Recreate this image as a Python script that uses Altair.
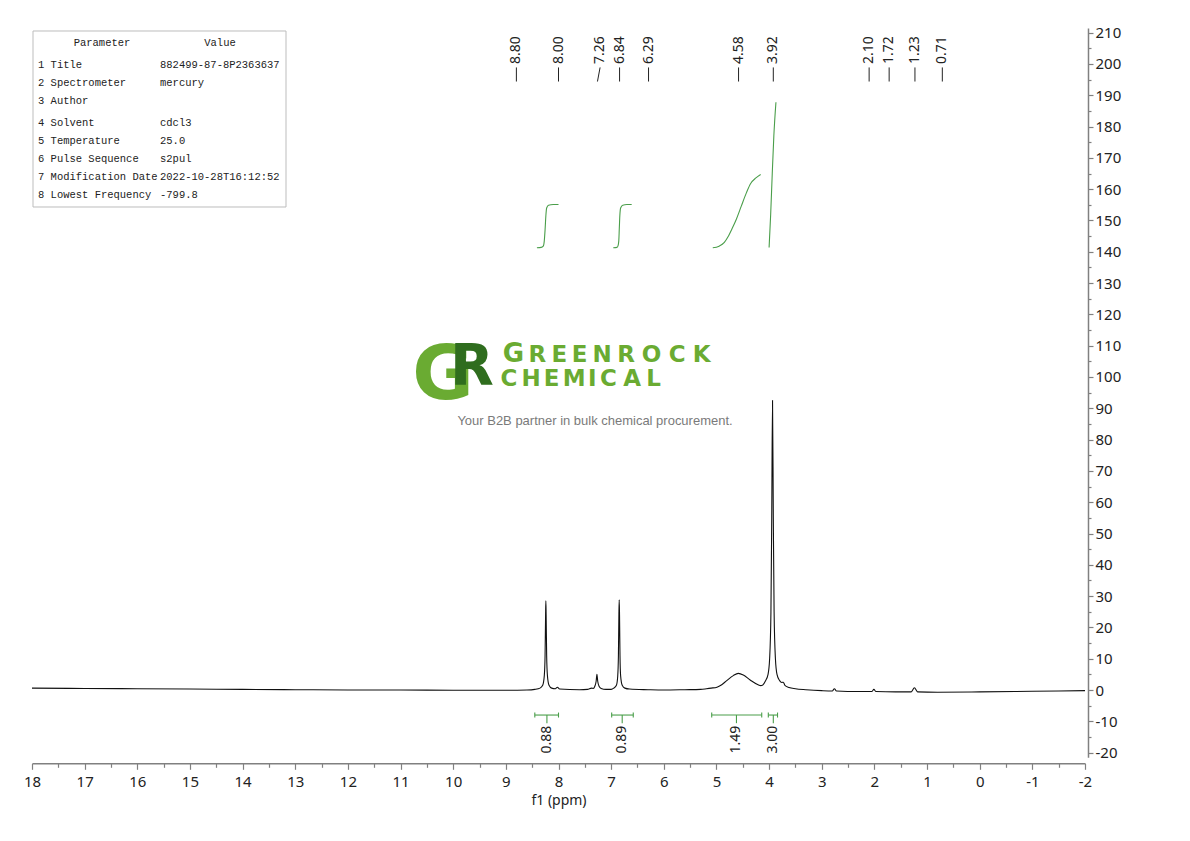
import altair as alt
import pandas as pd

# 1H trace: shift (ppm) and intensity
trace_ppm = [
    18.0, 17.0, 16.0, 15.0, 14.0, 13.0, 12.0, 11.0, 10.0, 9.0, 8.6,
    8.45, 8.35, 8.30, 8.27, 8.255, 8.245, 8.24, 8.235, 8.225, 8.21, 8.18, 8.13, 8.06, 8.02, 7.98, 7.6,
    7.45, 7.37, 7.34, 7.31, 7.285, 7.27, 7.255, 7.23, 7.19, 7.1,
    7.0, 6.95, 6.90, 6.875, 6.862, 6.853, 6.847, 6.841, 6.832, 6.82, 6.79, 6.74, 6.65, 6.3, 6.0, 5.6,
    5.3, 5.19, 5.1, 4.99, 4.9, 4.81, 4.68, 4.585, 4.49, 4.36, 4.2, 4.16,
    4.12, 4.07, 4.02, 3.99, 3.965, 3.95, 3.935, 3.92, 3.905, 3.88, 3.85, 3.80, 3.76, 3.73, 3.70, 3.62, 3.5, 3.3,
    3.0, 2.8, 2.76, 2.72, 2.3, 2.05, 2.01, 1.97, 1.6, 1.3, 1.24, 1.18, 0.8, 0.0, -1.0, -2.0,
]
trace_int = [
    0.6, 0.5, 0.4, 0.3, 0.2, 0.1, 0.0, 0.0, -0.1, -0.1, 0.0,
    0.2, 0.6, 1.5, 4.5, 11, 24, 28.5, 24, 11, 4.5, 1.5, 0.6, 0.4, 0.9, 0.3, 0.1,
    0.2, 0.6, 0.5, 1.2, 2.8, 5.0, 2.8, 1.2, 0.5, 0.2,
    0.2, 0.6, 1.5, 4.5, 11, 24, 28.8, 24, 11, 4.5, 1.5, 0.6, 0.3, 0.1, 0.0, 0.1,
    0.2, 0.4, 0.6, 0.9, 1.7, 2.9, 4.6, 5.3, 4.8, 3.2, 1.6, 1.4,
    1.6, 2.9, 5, 10, 25, 55, 92.5, 55, 25, 10, 5, 3, 2.4, 2.5, 1.5, 0.8, 0.4, 0.1,
    -0.2, -0.3, 0.4, -0.3, -0.5, -0.5, 0.2, -0.5, -0.6, -0.6, 0.7, -0.6, -0.7, -0.6, -0.4, -0.2,
]

# integral curves
int1_ppm = [8.41, 8.33, 8.29, 8.27, 8.255, 8.24, 8.225, 8.19, 8.10, 8.00]
int1_val = [141.3, 141.4, 141.8, 143.5, 147.0, 151.5, 154.0, 154.9, 155.1, 155.1]
int2_ppm = [6.96, 6.89, 6.87, 6.855, 6.845, 6.835, 6.82, 6.78, 6.70, 6.61]
int2_val = [141.3, 141.4, 141.9, 143.5, 147.5, 151.5, 154.0, 154.9, 155.1, 155.1]
int3_ppm = [5.07, 4.95, 4.85, 4.78, 4.70, 4.62, 4.53, 4.43, 4.35, 4.25, 4.16]
int3_val = [141.3, 141.8, 143.0, 144.8, 147.5, 150.5, 154.5, 158.9, 161.8, 163.6, 164.7]
int4_ppm = [4.00, 3.97, 3.94, 3.91, 3.87]
int4_val = [141.4, 152.0, 165.0, 177.0, 187.8]

# integration regions and values
region_from = [8.45, 6.99, 5.09, 4.015]
region_to = [8.00, 6.58, 4.14, 3.84]
region_mid = [8.22, 6.79, 4.62, 3.92]
region_value = ["0.88", "0.89", "1.49", "3.00"]

# peak picking labels
peak_labels = ["8.80", "8.00", "7.26", "6.84", "6.29", "4.58", "3.92", "2.10", "1.72", "1.23", "0.71"]
peak_ppm = [8.80, 8.00, 7.26, 6.84, 6.29, 4.58, 3.92, 2.10, 1.72, 1.23, 0.71]
peak_label_ppm = [8.80, 8.00, 7.21, 6.84, 6.29, 4.58, 3.92, 2.10, 1.72, 1.23, 0.71]

# parameter table
param_names = ["1 Title", "2 Spectrometer", "3 Author", "4 Solvent", "5 Temperature",
               "6 Pulse Sequence", "7 Modification Date", "8 Lowest Frequency"]
param_values = ["882499-87-8P2363637", "mercury", "", "cdcl3", "25.0",
                "s2pul", "2022-10-28T16:12:52", "-799.8"]

GREEN = "#4a9e4a"
LOGO_LIGHT = "#6aab32"
LOGO_DARK = "#2f6d1e"
DUMMY = pd.DataFrame({"a": [0]})

X_SCALE = alt.Scale(domain=[-2, 18], reverse=True, nice=False, zero=False)
Y_SCALE = alt.Scale(domain=[-21.5, 211.5], nice=False, zero=False)

X_AXIS = alt.Axis(
    orient="bottom", offset=6, grid=False, labelFlush=False, labelOverlap=False,
    values=[v / 2 for v in range(-4, 37)],
    labelExpr="datum.value % 1 === 0 ? (datum.value < 0 ? '-' + abs(datum.value) : '' + datum.value) : ''",
    tickSize={"condition": {"test": "datum.value % 1 !== 0", "value": 4}, "value": 6},
    labelFontSize=15, labelColor="#222", labelPadding=5, labelFont="Noto Sans",
    titleFontSize=14, titleFontWeight="normal", titleColor="#222", titlePadding=4, titleFont="Noto Sans",
    domainColor="#808080", domainWidth=1.5, tickColor="#808080", tickWidth=1.2,
)
Y_AXIS = alt.Axis(
    orient="right", offset=3, grid=False, labelFlush=False, labelOverlap=False, labelBound=False,
    values=list(range(-20, 211, 5)),
    labelExpr="datum.value % 10 === 0 ? (datum.value < 0 ? '-' + abs(datum.value) : '' + datum.value) : ''",
    tickSize={"condition": {"test": "datum.value % 10 !== 0", "value": 3}, "value": 5},
    labelFontSize=15, labelColor="#222", labelPadding=2, labelFont="Noto Sans",
    domainColor="#808080", domainWidth=1.5, tickColor="#808080", tickWidth=1.2,
)


def xch(field):
    return alt.X(field, type="quantitative", scale=X_SCALE, axis=X_AXIS, title="f1 (ppm)")


def ych(field):
    return alt.Y(field, type="quantitative", scale=Y_SCALE, axis=Y_AXIS, title=None)


def ydat(v):
    return alt.YDatum(v, type="quantitative", scale=Y_SCALE, axis=Y_AXIS, title=None)


def label(text, x, y, **kw):
    return alt.Chart(DUMMY).mark_text(**kw).encode(
        x=alt.value(x), y=alt.value(y), text=alt.value(text)
    )


trace_df = pd.DataFrame({"ppm": trace_ppm, "val": trace_int})
integ_df = pd.concat([
    pd.DataFrame({"ppm": p, "val": v, "g": i})
    for i, (p, v) in enumerate([(int1_ppm, int1_val), (int2_ppm, int2_val),
                                (int3_ppm, int3_val), (int4_ppm, int4_val)])
])
region_df = pd.DataFrame({"lo": region_from, "hi": region_to, "mid": region_mid, "txt": region_value})
ends_df = pd.DataFrame({"ppm": region_from + region_to})
peak_df = pd.DataFrame({"ppm": peak_ppm, "lab_ppm": peak_label_ppm, "label": peak_labels})

trace = alt.Chart(trace_df).mark_line(color="#111", strokeWidth=1.1, interpolate="monotone").encode(
    x=xch("ppm"), y=ych("val"), order=alt.Order("ppm:Q", sort="descending")
)
integrals = alt.Chart(integ_df).mark_line(color=GREEN, strokeWidth=1.1, interpolate="monotone").encode(
    x=xch("ppm"), y=ych("val"), detail="g:N", order=alt.Order("ppm:Q", sort="descending")
)

bracket = alt.Chart(region_df).mark_rule(color=GREEN, strokeWidth=1.1).encode(
    x=xch("lo"), x2="hi", y=ydat(-8.0)
)
bracket_ends = alt.Chart(ends_df).mark_rule(color=GREEN, strokeWidth=1.1).encode(
    x=xch("ppm"), y=ydat(-7.2), y2=alt.datum(-8.8)
)
bracket_mid = alt.Chart(region_df).mark_rule(color=GREEN, strokeWidth=1.1).encode(
    x=xch("mid"), y=ydat(-8.0), y2=alt.datum(-10.6)
)
region_text = alt.Chart(region_df).mark_text(
    angle=270, align="right", baseline="middle", fontSize=14, color="#222", font="Noto Sans"
).encode(x=xch("mid"), y=ydat(-11.4), text="txt:N")

peak_lines = alt.Chart(peak_df).mark_rule(color="#222", strokeWidth=1).encode(
    x=xch("ppm"), x2="lab_ppm", y=ydat(194.4), y2=alt.datum(198.9)
)
peak_text = alt.Chart(peak_df).mark_text(
    angle=270, align="left", baseline="middle", fontSize=14, color="#222", font="Noto Sans"
).encode(x=xch("lab_ppm"), y=ydat(200.0), text="label:N")

# parameter table in the top-left corner (pixel positions inside the plot)
table_box = alt.Chart(DUMMY).mark_rect(fill="white", stroke="#bdbdbd", strokeWidth=1).encode(
    x=alt.value(1), x2=alt.value(254), y=alt.value(3), y2=alt.value(179)
)
tfont = dict(font="Liberation Mono", fontSize=10.5, color="#222", baseline="middle")
table_layers = [
    label("Parameter", 70, 15, align="center", **tfont),
    label("Value", 188, 15, align="center", **tfont),
]
row_y = [37, 55, 73, 95, 113, 131, 149, 167]
for name, value, ry in zip(param_names, param_values, row_y):
    table_layers.append(label(name, 6, ry, align="left", **tfont))
    if value:
        table_layers.append(label(value, 128, ry, align="left", **tfont))

# watermark logo
logo_layers = [
    label("G", 411, 371, align="center", baseline="alphabetic", font="DejaVu Sans",
          fontWeight="bold", fontSize=75, color=LOGO_LIGHT),
    label("R", 440, 357, align="center", baseline="alphabetic", font="DejaVu Sans",
          fontWeight="bold", fontSize=57, color=LOGO_DARK),
]
top_word = list("GREENROCK")
top_x = [481.5, 505.4, 527.3, 547.7, 570.1, 594, 619.4, 645.3, 669.7]
for i, (ch, lx) in enumerate(zip(top_word, top_x)):
    logo_layers.append(label(ch, lx, 334, align="center", baseline="alphabetic", font="DejaVu Sans",
                             fontWeight="bold", fontSize=26 if i == 0 else 23, color=LOGO_LIGHT))
bottom_word = list("CHEMICAL")
bottom_x = [477, 499.1, 519.7, 542.3, 560.4, 576.5, 600.1, 621.7]
for ch, lx in zip(bottom_word, bottom_x):
    logo_layers.append(label(ch, lx, 358, align="center", baseline="alphabetic", font="DejaVu Sans",
                             fontWeight="bold", fontSize=23, color=LOGO_LIGHT))
logo_layers.append(label("Your B2B partner in bulk chemical procurement.", 563, 393,
                         align="center", baseline="middle", font="Liberation Sans",
                         fontSize=13, color="#7a7a7a"))

chart = alt.layer(
    *logo_layers, trace, integrals, bracket, bracket_ends, bracket_mid, region_text,
    peak_lines, peak_text, table_box, *table_layers,
).properties(
    width=1053, height=729.3,
    background="white",
    autosize=alt.AutoSizeParams(type="none"),
    padding={"left": 24, "top": 20, "right": 80, "bottom": 60},
).configure_view(stroke=None)

chart.save("out.html", embed_options={"renderer": "svg", "actions": False})
